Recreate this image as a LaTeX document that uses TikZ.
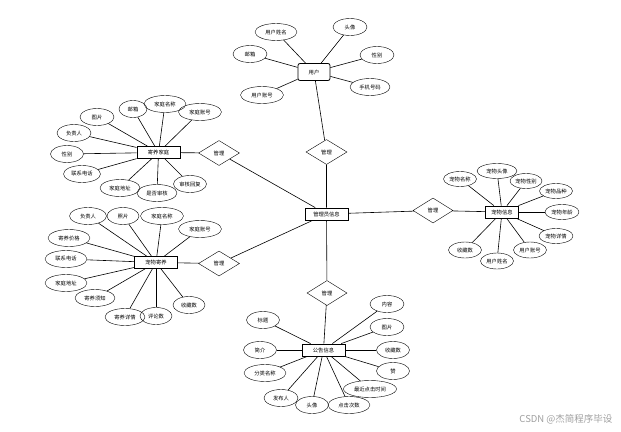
\documentclass[tikz,border=0pt]{standalone}
\usepackage{fontspec}
\setmainfont{Noto Sans CJK SC}
\usetikzlibrary{shapes.geometric}

\begin{document}
\begin{tikzpicture}[x=1pt,y=-1pt, every node/.style={font=\fontsize{5.3}{6}\selectfont},
    attr/.style={draw, ellipse, inner sep=0pt, minimum height=17pt, minimum width=#1},
    attr/.default=34pt,
    ent/.style={draw, rectangle, line width=0.8pt, inner sep=0pt, minimum width=43pt, minimum height=12pt},
    rel/.style={draw, diamond, inner sep=0pt, minimum width=41pt, minimum height=25pt},
    link/.style={line width=0.6pt}]
    \useasboundingbox (0,0) rectangle (621,431);
    % entities and relations
    \node[ent, rounded corners=2pt, minimum width=32pt, minimum height=17pt] (user) at (314,72) {用户};
    \node[ent] (admin) at (326.5,214) {管理员信息};
    \node[ent] (family) at (158.5,152.5) {寄养家庭};
    \node[ent] (foster) at (156,262.5) {宠物寄养};
    \node[ent, minimum width=33pt] (pet) at (502,212) {宠物信息};
    \node[ent] (notice) at (323.5,350) {公告信息};
    \node[rel] (r-user) at (326.5,152) {管理};
    \node[rel] (r-family) at (219,153) {管理};
    \node[rel] (r-foster) at (219,263.5) {管理};
    \node[rel, minimum width=40pt] (r-pet) at (433,210.5) {管理};
    \node[rel, minimum width=40pt] (r-notice) at (327,293) {管理};
    % user
    \node[attr=42pt] (u1) at (276,32) {用户姓名};
    \node[attr] (u2) at (350,27) {头像};
    \node[attr] (u3) at (250,54) {邮箱};
    \node[attr] (u4) at (377,55) {性别};
    \node[attr=43pt] (u5) at (262,95) {用户账号};
    \node[attr=40pt] (u6) at (370,87) {手机号码};
    % family
    \node[attr] (f1) at (97,117) {图片};
    \node[attr=28pt] (f2) at (133,109) {邮箱};
    \node[attr=42pt] (f3) at (165,104) {家庭名称};
    \node[attr=43pt] (f4) at (200,112) {家庭账号};
    \node[attr] (f5) at (74,133) {负责人};
    \node[attr=33pt] (f6) at (67,154) {性别};
    \node[attr=37pt] (f7) at (82,174) {联系电话};
    \node[attr=40pt] (f8) at (120,188) {家庭地址};
    \node[attr=40pt] (f9) at (157,193) {是否审核};
    \node[attr=33pt] (f10) at (190,184) {审核回复};
    % foster
    \node[attr=37pt] (p1) at (88,216) {负责人};
    \node[attr=32pt] (p2) at (123,216) {照片};
    \node[attr=43pt] (p3) at (162,216) {家庭名称};
    \node[attr=43pt] (p4) at (200,229) {家庭账号};
    \node[attr=42pt] (p5) at (69,238) {寄养价格};
    \node[attr=42pt] (p6) at (66,259) {联系电话};
    \node[attr=42pt] (p7) at (66,283) {家庭地址};
    \node[attr=40pt] (p8) at (95,298) {寄养须知};
    \node[attr=40pt] (p9) at (125,317) {寄养详情};
    \node[attr=32pt] (p10) at (156,316) {评论数};
    \node[attr=32pt] (p11) at (189,305) {收藏数};
    % pet
    \node[attr=33pt, minimum height=15pt] (e1) at (460,179) {宠物名称};
    \node[attr=40pt, minimum height=15pt] (e2) at (497,171) {宠物头像};
    \node[attr=32pt, minimum height=15pt] (e3) at (526,181) {宠物性别};
    \node[attr=33pt, minimum height=15pt] (e4) at (556,191) {宠物品种};
    \node[attr=34pt, minimum height=15pt] (e5) at (562,212) {宠物年龄};
    \node[attr=34pt, minimum height=15pt] (e6) at (556,236) {宠物详情};
    \node[attr=33pt, minimum height=16pt] (e7) at (530,250) {用户账号};
    \node[attr=33pt, minimum height=16pt] (e8) at (497,261) {用户姓名};
    \node[attr=33pt, minimum height=16pt] (e9) at (465,250) {收藏数};
    % notice
    \node[attr=33pt] (n1) at (263,320) {标题};
    \node[attr=33pt] (n2) at (260,350) {简介};
    \node[attr=42pt] (n3) at (265,373) {分类名称};
    \node[attr] (n4) at (281,398) {发布人};
    \node[attr=33pt] (n5) at (312,405) {头像};
    \node[attr=42pt] (n6) at (349,405) {点击次数};
    \node[attr=53pt] (n7) at (370,389) {最近点击时间};
    \node[attr=33pt] (n8) at (393,371) {赞};
    \node[attr=33pt] (n9) at (393,350) {收藏数};
    \node[attr] (n10) at (387,327) {图片};
    \node[attr] (n11) at (387,304) {内容};
    % connectors
    \foreach \a in {u1,u2,u3,u4,u5,u6} \draw[link] (\a) -- (user);
    \foreach \a in {f1,f2,f3,f4,f5,f6,f7,f8,f9,f10} \draw[link] (\a) -- (family);
    \foreach \a in {p1,p2,p3,p4,p5,p6,p7,p8,p9,p10,p11} \draw[link] (\a) -- (foster);
    \foreach \a in {e1,e2,e3,e4,e5,e6,e7,e8,e9} \draw[link] (\a) -- (pet);
    \foreach \a in {n1,n2,n3,n4,n5,n6,n7,n8,n9,n10,n11} \draw[link] (\a) -- (notice);
    \draw[link] (user) -- (r-user) -- (admin);
    \draw[link] (family) -- (r-family) -- (admin);
    \draw[link] (foster) -- (r-foster) -- (admin);
    \draw[link] (admin) -- (r-pet) -- (pet);
    \draw[link] (admin) -- (r-notice) -- (notice);
    \node[text=gray!75, font=\fontsize{9.5}{11}\selectfont, anchor=east] (mark) at (616,419) {CSDN @杰简程序毕设};
\end{tikzpicture}
\end{document}
